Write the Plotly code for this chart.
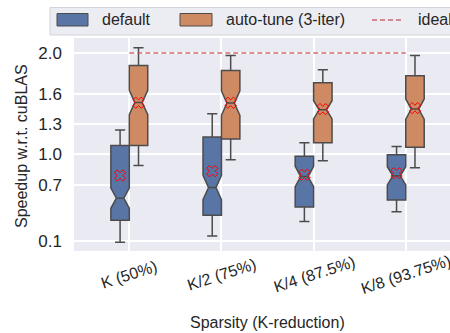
import plotly.graph_objects as go

# ---------------- data ----------------
categories = ["K (50%)", "K/2 (75%)", "K/4 (87.5%)", "K/8 (93.75%)"]
series_names = ["default", "auto-tune (3-iter)", "ideal"]

default_q1 = [0.351, 0.401, 0.483, 0.552]
default_median = [0.569, 0.673, 0.782, 0.789]
default_q3 = [1.088, 1.171, 0.983, 0.996]
default_lower = [0.134, 0.196, 0.338, 0.436]
default_upper = [1.240, 1.401, 1.115, 1.078]
default_mean = [0.792, 0.835, 0.800, 0.815]
default_notch = [0.10, 0.12, 0.10, 0.09]

tuned_q1 = [1.088, 1.151, 1.115, 1.072]
tuned_median = [1.512, 1.506, 1.440, 1.447]
tuned_q3 = [1.878, 1.828, 1.707, 1.776]
tuned_lower = [0.890, 0.947, 0.937, 0.868]
tuned_upper = [2.052, 1.976, 1.835, 1.976]
tuned_mean = [1.510, 1.510, 1.447, 1.457]
tuned_notch = [0.12, 0.12, 0.09, 0.10]

ideal_speedup = 2.0

ytick_vals = [0.15, 0.7, 1.0, 1.3, 1.6, 2.0]
ytick_text = ["0.1", "0.7", "1.0", "1.3", "1.6", "2.0"]

x_title = "Sparsity (K-reduction)"
y_title = "Speedup w.r.t. cuBLAS"

# ---------------- style ----------------
W, H = 450, 333
PL, PR, PT, PB = 74, 450, 38, 251
FONT = "Liberation Sans, Arial, sans-serif"
BLUE = "#5975a5"
ORANGE = "#cd8a63"
EDGE = "#4c4c4c"
RED = "rgba(200,80,85,0.85)"
BG = "#eaeaf2"
BOX_W = 0.2


def px(x):
    return (x - PL) / (PR - PL)


def py(y):
    return (PB - y) / (PB - PT)


pos = list(range(len(categories)))
pos_default = [p - BOX_W / 2 for p in pos]
pos_tuned = [p + BOX_W / 2 for p in pos]

fig = go.Figure()

for xs, q1, med, q3, lo, up, nt, col, name in [
    (pos_default, default_q1, default_median, default_q3, default_lower, default_upper, default_notch, BLUE, series_names[0]),
    (pos_tuned, tuned_q1, tuned_median, tuned_q3, tuned_lower, tuned_upper, tuned_notch, ORANGE, series_names[1]),
]:
    fig.add_trace(go.Box(
        x=xs, q1=q1, median=med, q3=q3, lowerfence=lo, upperfence=up,
        notchspan=nt, notched=True, notchwidth=0.3, width=BOX_W,
        fillcolor=col, line=dict(color=EDGE, width=1.5), whiskerwidth=0.55,
        boxpoints=False, name=name, showlegend=False, hoverinfo="skip",
    ))

for xs, mean in [(pos_default, default_mean), (pos_tuned, tuned_mean)]:
    fig.add_trace(go.Scatter(
        x=xs, y=mean, mode="markers", showlegend=False, hoverinfo="skip",
        marker=dict(symbol="x-open", size=10, color="red", line=dict(color="red", width=1)),
    ))

fig.add_trace(go.Scatter(
    x=[pos[0], pos[-1]], y=[ideal_speedup, ideal_speedup], mode="lines",
    line=dict(color=RED, width=1.5, dash="5px,3px"), showlegend=False, hoverinfo="skip",
))

# x tick labels (centered, rotated like matplotlib)
annotations = []
for p, c in zip(pos, categories):
    annotations.append(dict(
        x=p, y=py(274), xref="x", yref="paper", text=c, showarrow=False,
        textangle=-18, xanchor="center", yanchor="middle",
        font=dict(family=FONT, size=16, color="#262626"),
    ))
annotations.append(dict(
    x=px(267), y=py(322), xref="paper", yref="paper", text=x_title, showarrow=False,
    xanchor="center", yanchor="middle", font=dict(family=FONT, size=16, color="#262626"),
))
annotations.append(dict(
    x=px(21), y=py(146), xref="paper", yref="paper", text=y_title, showarrow=False,
    textangle=-90, xanchor="center", yanchor="middle",
    font=dict(family=FONT, size=16, color="#262626"),
))

# manual legend
shapes = [
    dict(type="rect", xref="paper", yref="paper", x0=px(50), x1=px(470), y0=py(35), y1=py(7.5),
         fillcolor="#ececf3", line=dict(color="#d4d4dc", width=1), layer="above"),
    dict(type="rect", xref="paper", yref="paper", x0=px(57), x1=px(88), y0=py(26), y1=py(13.5),
         fillcolor=BLUE, line=dict(color=EDGE, width=1), layer="above"),
    dict(type="rect", xref="paper", yref="paper", x0=px(180), x1=px(212), y0=py(26), y1=py(13.5),
         fillcolor=ORANGE, line=dict(color=EDGE, width=1), layer="above"),
    dict(type="line", xref="paper", yref="paper", x0=px(372), x1=px(404), y0=py(20), y1=py(20),
         line=dict(color=RED, width=1.5, dash="5px,3px"), layer="above"),
]
for xl, txt in [(100, series_names[0]), (224, series_names[1]), (415.5, series_names[2])]:
    annotations.append(dict(
        x=px(xl), y=py(20), xref="paper", yref="paper", text=txt, showarrow=False,
        xanchor="left", yanchor="middle", font=dict(family=FONT, size=16, color="#262626"),
    ))

fig.update_layout(
    width=W, height=H,
    margin=dict(l=PL, r=W - PR, t=PT, b=H - PB, pad=0),
    paper_bgcolor="white", plot_bgcolor=BG,
    font=dict(family=FONT, size=16, color="#262626"),
    showlegend=False,
    annotations=annotations, shapes=shapes,
    xaxis=dict(range=[-0.6, 3.48], tickvals=pos, showticklabels=False,
               showgrid=True, gridcolor="white", gridwidth=1.5, zeroline=False,
               showline=False, ticks=""),
    yaxis=dict(range=[0.048, 2.148], tickvals=ytick_vals, ticktext=ytick_text,
               showgrid=True, gridcolor="white", gridwidth=1.5, zeroline=False,
               showline=False, ticks="", ticklabelstandoff=11,
               tickfont=dict(family=FONT, size=17, color="#262626")),
)

fig.write_html(
    "out.html",
    config={"displayModeBar": False},
    post_script="document.body.style.margin='0';document.body.style.overflow='hidden';",
)
